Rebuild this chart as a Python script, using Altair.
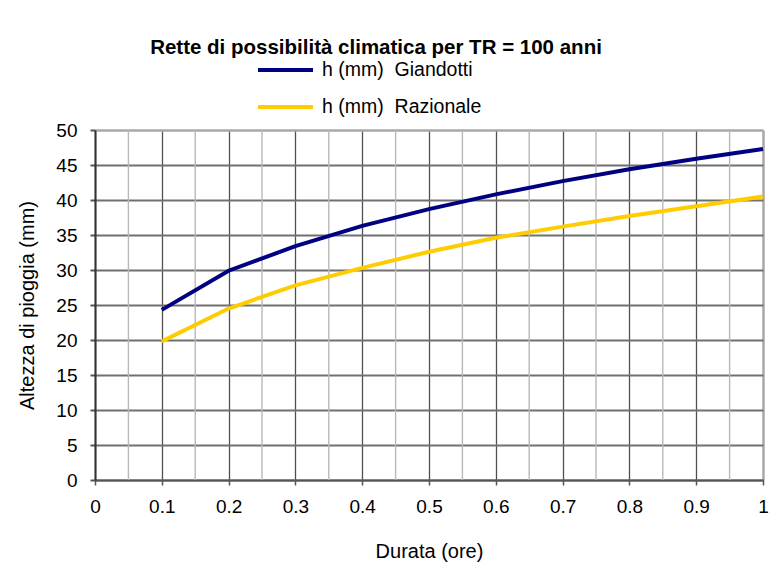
import altair as alt
import pandas as pd

durata = [0.1, 0.2, 0.3, 0.4, 0.5, 0.6, 0.7, 0.8, 0.9, 1.0]
h_giandotti = [24.3, 29.9, 33.4, 36.3, 38.7, 40.8, 42.7, 44.4, 45.9, 47.3]
h_razionale = [19.8, 24.5, 27.8, 30.3, 32.6, 34.6, 36.2, 37.7, 39.1, 40.5]
series_names = ["h (mm)\u00a0 Giandotti", "h (mm)\u00a0 Razionale"]
series_colors = ["#000080", "#FFCC00"]
x_ticks = [0, 0.1, 0.2, 0.3, 0.4, 0.5, 0.6, 0.7, 0.8, 0.9, 1.0]
x_minor = [0.05, 0.15, 0.25, 0.35, 0.45, 0.55, 0.65, 0.75, 0.85, 0.95]
y_ticks = [0, 5, 10, 15, 20, 25, 30, 35, 40, 45, 50]

FONT = "Liberation Sans"

rows = []
for d, g in zip(durata, h_giandotti):
    rows.append({"durata": d, "h": g, "serie": series_names[0]})
for d, r in zip(durata, h_razionale):
    rows.append({"durata": d, "h": r, "serie": series_names[1]})
df = pd.DataFrame(rows)
minor_df = pd.DataFrame({"durata": x_minor})

xscale = alt.Scale(domain=[0, 1], nice=False)
yscale = alt.Scale(domain=[0, 50], nice=False)

minor = alt.Chart(minor_df).mark_rule(color="#b8b8b8", strokeWidth=1.4).encode(
    x=alt.X("durata:Q", scale=xscale),
)

lines = alt.Chart(df).mark_line(strokeWidth=4).encode(
    x=alt.X(
        "durata:Q",
        scale=xscale,
        title="Durata (ore)",
        axis=alt.Axis(
            values=x_ticks,
            format=".1~f",
            labelFontSize=19,
            labelFont=FONT,
            labelColor="black",
            labelPadding=12,
            tickSize=5,
            tickColor="#555555",
            tickWidth=1.5,
            domainColor="#555555",
            domainWidth=2,
            grid=True,
            gridColor={"condition": {"test": "datum.value >= 1", "value": "#a8a8a8"}, "value": "#505050"},
            gridWidth={"condition": {"test": "datum.value >= 1", "value": 2.5}, "value": 1.3},
            titleFontSize=20,
            titleFont=FONT,
            titleFontWeight="normal",
            titleColor="black",
            titleY=77,
            titleBaseline="alphabetic",
            labelFlush=False,
        ),
    ),
    y=alt.Y(
        "h:Q",
        scale=yscale,
        title="Altezza di pioggia (mm)",
        axis=alt.Axis(
            values=y_ticks,
            labelFontSize=19,
            labelFont=FONT,
            labelColor="black",
            labelPadding=13,
            tickSize=5,
            tickColor="#555555",
            tickWidth=2,
            domainColor="#333333",
            domainWidth=2,
            grid=True,
            gridColor={"condition": {"test": "datum.value >= 50", "value": "#a8a8a8"}, "value": "#707070"},
            gridWidth={"condition": {"test": "datum.value >= 50", "value": 2.5}, "value": 2},
            titleFontSize=20,
            titleFont=FONT,
            titleFontWeight="normal",
            titleColor="black",
            titleAngle=270,
            titleX=-61.7,
            titleY=175,
            titleAlign="center",
            titleBaseline="alphabetic",
            labelFlush=False,
        ),
    ),
    color=alt.Color(
        "serie:N",
        scale=alt.Scale(domain=series_names, range=series_colors),
        legend=alt.Legend(
            title=None,
            orient="none",
            legendX=161,
            legendY=-70,
            symbolType="stroke",
            symbolSize=3025,
            symbolStrokeWidth=4,
            clipHeight=20,
            rowPadding=17,
            labelFontSize=19.5,
            labelFont=FONT,
            labelColor="black",
            labelOffset=7,
            padding=0,
        ),
    ),
)

chart = alt.layer(minor, lines).properties(
    width=668,
    height=350,
    padding={"left": 95, "top": 130, "right": 6, "bottom": 82},
    autosize=alt.AutoSizeParams(type="none"),
    title=alt.TitleParams(
        "Rette di possibilità climatica per TR = 100 anni",
        fontSize=20.5,
        font=FONT,
        fontWeight="bold",
        color="black",
        anchor="middle",
        dx=-53,
        dy=2,
    ),
).configure_view(stroke=None).configure(background="white")

chart.save("out.html", embed_options={"renderer": "svg", "actions": False})
